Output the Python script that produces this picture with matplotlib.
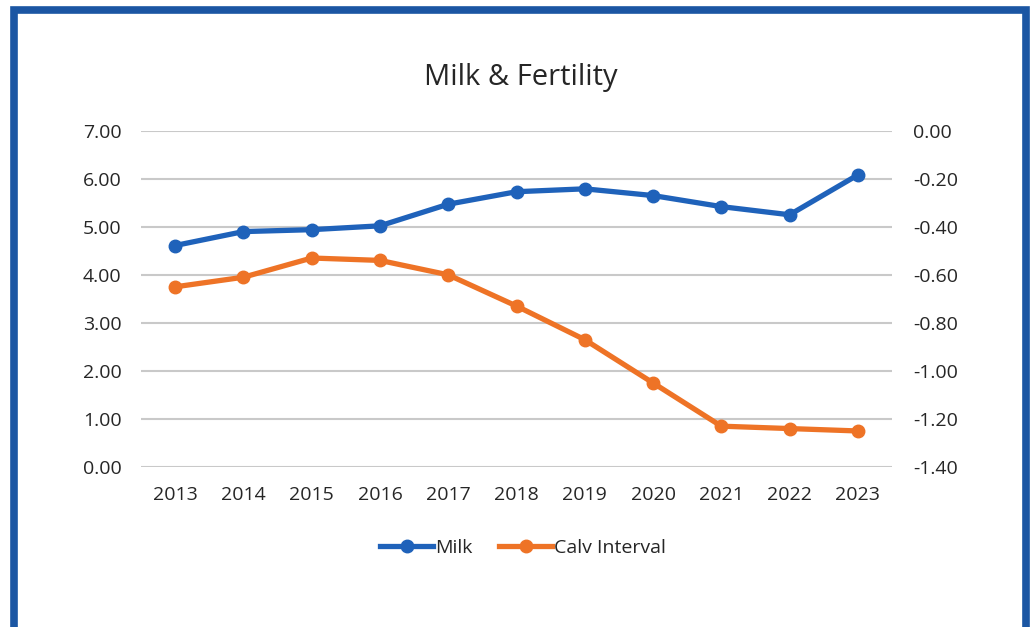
import numpy as np
import matplotlib
matplotlib.use('Agg')
import matplotlib.pyplot as plt
from matplotlib.patches import Rectangle

years = ['2013', '2014', '2015', '2016', '2017', '2018', '2019', '2020', '2021', '2022', '2023']
milk = [4.61, 4.90, 4.94, 5.02, 5.47, 5.73, 5.79, 5.65, 5.42, 5.25, 6.08]
calv = [-0.65, -0.61, -0.53, -0.54, -0.60, -0.73, -0.87, -1.05, -1.23, -1.24, -1.25]

left_ticks = np.arange(0, 7.01, 1.0)
right_ticks = np.round(np.arange(-1.4, 0.001, 0.2), 2)

plt.rcParams['font.family'] = ['Open Sans', 'DejaVu Sans']

fig = plt.figure(figsize=(10.32, 6.27), dpi=100)
fig.patch.set_facecolor('white')

# blue frame round the chart
fig.add_artist(Rectangle((13.5 / 1032, -0.05), (1026 - 13.5) / 1032, 1.05 - 9.5 / 627,
                         transform=fig.transFigure, fill=False,
                         edgecolor='#1B56A3', lw=5.5))

ax = fig.add_axes([141 / 1032, 1 - 467 / 627, 751 / 1032, (467 - 130.7) / 627])
x = np.arange(len(years))

ax.set_ylim(0, 7)
ax.set_yticks(left_ticks)
ax.set_yticklabels(['%.2f' % v for v in left_ticks])
ax.set_xlim(-0.5, len(years) - 0.5)
ax.set_xticks(x)
ax.set_xticklabels(years)
ax.grid(axis='y', color='#C9C9C9', lw=1.5)
ax.set_axisbelow(True)
for s in ax.spines.values():
    s.set_visible(False)
ax.tick_params(length=0, labelsize=14, colors='#262626', pad=14)
ax.tick_params(axis='x', pad=14)

ax2 = ax.twinx()
ax2.set_ylim(-1.4, 0)
ax2.set_yticks(right_ticks)
ax2.set_yticklabels(['%.2f' % (v + 0.0) for v in right_ticks])
for s in ax2.spines.values():
    s.set_visible(False)
ax2.tick_params(length=0, labelsize=14, colors='#262626', pad=15)

l1, = ax.plot(x, milk, color='#1F62BA', lw=3.8, marker='o', ms=9, label='Milk', zorder=3)
l2, = ax2.plot(x, calv, color='#EE7326', lw=3.8, marker='o', ms=9, label='Calv Interval', zorder=3)

fig.text(521 / 1032, 1 - 78 / 627, 'Milk & Fertility', ha='center', va='center',
         fontsize=21, color='#262626')

fig.legend(handles=[l1, l2], loc='center', bbox_to_anchor=(523 / 1032, 1 - 548 / 627),
           ncol=2, frameon=False, fontsize=14, handlelength=2.7, handletextpad=0.1,
           columnspacing=1.4, labelcolor='#262626')

fig.savefig('out.png', dpi=100)
